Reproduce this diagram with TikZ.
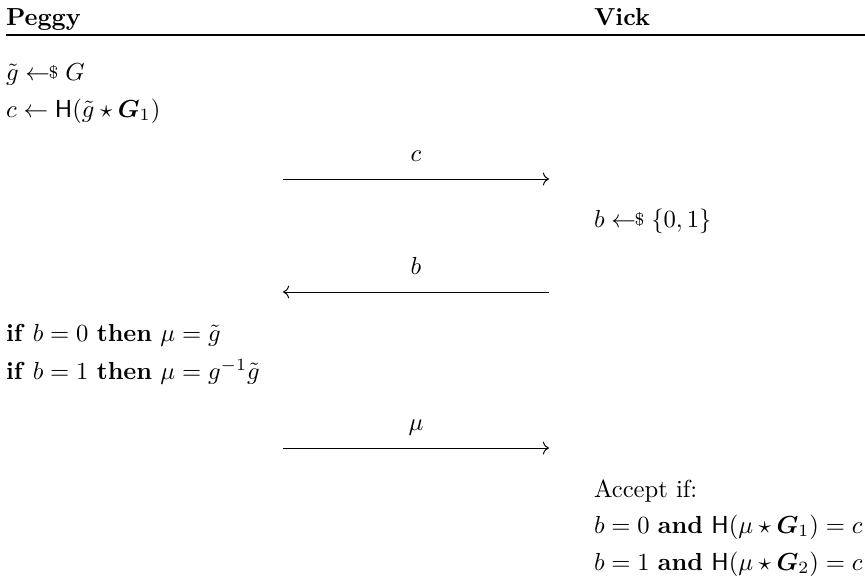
\documentclass[tikz,border=0pt]{standalone}
\usepackage{amsmath, amssymb}
\usepackage{bm}
\usepackage{tikz}
\usetikzlibrary{arrows.meta}

\newcommand{\sampleto}{\mathrel{\leftarrow\!\!\raisebox{.1ex}{\scriptsize\$}}}

\begin{document}
\begin{tikzpicture}[
    x=0.406pt, y=-0.406pt,
    every node/.style={inner sep=0pt, outer sep=0pt},
    party/.style={anchor=base west, font=\bfseries},
    stmt/.style={anchor=base west},
    msg/.style={-{To}, thin},
    lbl/.style={anchor=base, yshift=7pt}
]
\useasboundingbox (0,0) rectangle (865,579);

% header
\node[party] (peggy) at (6,25)   {Peggy};
\node[party] (vick)  at (594,25) {Vick};
\coordinate (ruleL) at (6,35);
\coordinate (ruleR) at (865,35);
\draw[line width=0.5pt] (ruleL) -- (ruleR);

% commitment
\node[stmt] (gsamp)  at (6,80)  {$\tilde{g} \sampleto G$};
\node[stmt] (commit) at (6,117) {$c \leftarrow \mathsf{H}(\tilde{g} \star \bm{G}_1)$};
\coordinate (cfrom) at (283,179);
\coordinate (cto)   at (549,179);
\draw[msg] (cfrom) -- node[lbl] (clbl) {$c$} (cto);

% challenge
\node[stmt] (bsamp) at (594,227) {$b \sampleto \{0,1\}$};
\coordinate (bfrom) at (549,292);
\coordinate (bto)   at (283,292);
\draw[msg] (bfrom) -- node[lbl] (blbl) {$b$} (bto);

% response
\node[stmt] (resp0) at (6,341) {\textbf{if} $b = 0$ \textbf{then} $\mu = \tilde{g}$};
\node[stmt] (resp1) at (6,379) {\textbf{if} $b = 1$ \textbf{then} $\mu = g^{-1}\tilde{g}$};
\coordinate (mufrom) at (283,448);
\coordinate (muto)   at (549,448);
\draw[msg] (mufrom) -- node[lbl] (mulbl) {$\mu$} (muto);

% verification
\node[stmt] (acc)  at (594,497) {Accept if:};
\node[stmt] (acc0) at (594,533) {$b = 0$ \textbf{and} $\mathsf{H}(\mu \star \bm{G}_1) = c$};
\node[stmt] (acc1) at (594,570) {$b = 1$ \textbf{and} $\mathsf{H}(\mu \star \bm{G}_2) = c$};
\end{tikzpicture}
\end{document}
